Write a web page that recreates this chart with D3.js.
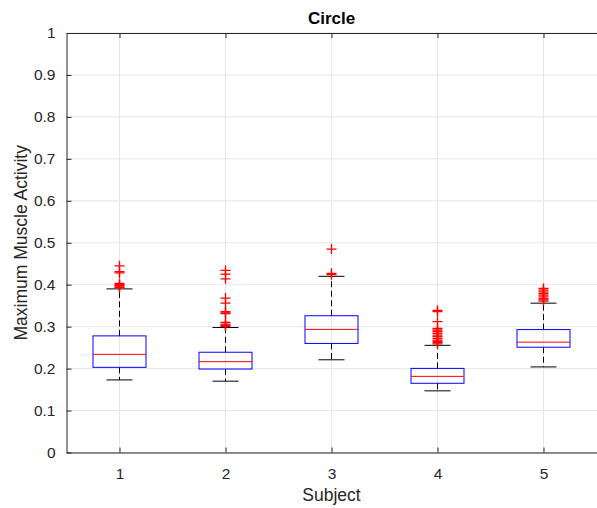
<!DOCTYPE html>
<html><head><meta charset="utf-8">
<script src="https://cdn.jsdelivr.net/npm/d3@7"></script>
<style>body{margin:0;background:#fff}svg{display:block}text{font-family:"Liberation Sans",Arial,sans-serif}</style>
</head><body>
<script>
const subjects = [1, 2, 3, 4, 5];
const q1 = [0.203, 0.199, 0.260, 0.165, 0.251];
const medians = [0.234, 0.2165, 0.2935, 0.1815, 0.263];
const q3 = [0.278, 0.239, 0.326, 0.2005, 0.293];
const whiskerLow = [0.173, 0.170, 0.221, 0.147, 0.204];
const whiskerHigh = [0.390, 0.298, 0.420, 0.2555, 0.356];
const outliers = [
  [0.445, 0.431, 0.428, 0.403, 0.400, 0.398, 0.395, 0.393],
  [0.434, 0.425, 0.414, 0.368, 0.356, 0.336, 0.333, 0.331, 0.310, 0.306, 0.303, 0.301],
  [0.485, 0.427, 0.424],
  [0.339, 0.336, 0.312, 0.296, 0.292, 0.288, 0.284, 0.280, 0.276, 0.272, 0.268, 0.265, 0.262, 0.259],
  [0.391, 0.387, 0.383, 0.379, 0.375, 0.371, 0.367, 0.364, 0.361]
];
const yTicks = [0, 0.1, 0.2, 0.3, 0.4, 0.5, 0.6, 0.7, 0.8, 0.9, 1];

const W = 597, H = 508;
const m = {left: 66.5, right: 0, top: 33, bottom: 55.5};
const svg = d3.select("body").append("svg").attr("width", W).attr("height", H);
const x = d3.scaleLinear().domain([0.5, 5.5]).range([m.left, m.left + 530]);
const y = d3.scaleLinear().domain([0, 1]).range([H - m.bottom, m.top]);
const ink = "#262626";

// grid
const g = svg.append("g");
g.selectAll(".gy").data(yTicks).join("line")
  .attr("x1", m.left).attr("x2", W).attr("y1", d => y(d)).attr("y2", d => y(d))
  .attr("stroke", "#e6e6e6").attr("stroke-width", 1);
g.selectAll(".gx").data(subjects).join("line")
  .attr("x1", d => x(d)).attr("x2", d => x(d)).attr("y1", y(0)).attr("y2", y(1))
  .attr("stroke", "#e6e6e6").attr("stroke-width", 1);

// axes
const yAxis = d3.axisLeft(y).tickValues(yTicks).tickFormat(d => d3.format("~g")(d)).tickSizeInner(-5).tickSizeOuter(0).tickPadding(11);
const xAxis = d3.axisBottom(x).tickValues(subjects).tickFormat(d3.format("d")).tickSizeInner(-5).tickSizeOuter(0).tickPadding(15);
const ya = svg.append("g").attr("transform", `translate(${m.left},0)`).call(yAxis);
const xa = svg.append("g").attr("transform", `translate(0,${y(0)})`).call(xAxis);
const xt = svg.append("g").attr("transform", `translate(0,${y(1)})`).call(d3.axisTop(x).tickValues(subjects).tickFormat("").tickSizeInner(-5).tickSizeOuter(0));
[ya, xa, xt].forEach(a => {
  a.selectAll("path,line").attr("stroke", ink);
  a.selectAll("text").attr("fill", ink).style("font-size", "15.5px");
});

// boxes
const bw = 53, cw = 26;
const boxes = svg.append("g").selectAll("g").data(subjects).join("g");
boxes.append("line").attr("x1", d => x(d)).attr("x2", d => x(d))
  .attr("y1", (d, i) => y(q3[i])).attr("y2", (d, i) => y(whiskerHigh[i]))
  .attr("stroke", "#000").attr("stroke-dasharray", "6,3.5");
boxes.append("line").attr("x1", d => x(d)).attr("x2", d => x(d))
  .attr("y1", (d, i) => y(q1[i])).attr("y2", (d, i) => y(whiskerLow[i]))
  .attr("stroke", "#000").attr("stroke-dasharray", "6,3.5");
boxes.append("line").attr("x1", d => x(d) - cw / 2).attr("x2", d => x(d) + cw / 2)
  .attr("y1", (d, i) => y(whiskerHigh[i])).attr("y2", (d, i) => y(whiskerHigh[i])).attr("stroke", "#000");
boxes.append("line").attr("x1", d => x(d) - cw / 2).attr("x2", d => x(d) + cw / 2)
  .attr("y1", (d, i) => y(whiskerLow[i])).attr("y2", (d, i) => y(whiskerLow[i])).attr("stroke", "#000");
boxes.append("rect").attr("x", d => x(d) - bw / 2).attr("width", bw)
  .attr("y", (d, i) => y(q3[i])).attr("height", (d, i) => y(q1[i]) - y(q3[i]))
  .attr("fill", "none").attr("stroke", "#0000ff");
boxes.append("line").attr("x1", d => x(d) - bw / 2).attr("x2", d => x(d) + bw / 2)
  .attr("y1", (d, i) => y(medians[i])).attr("y2", (d, i) => y(medians[i])).attr("stroke", "#ff0000");

// outliers
const pts = [];
outliers.forEach((arr, i) => arr.forEach(v => pts.push({s: subjects[i], v})));
svg.append("g").selectAll("path").data(pts).join("path")
  .attr("d", d => { const cx = x(d.s), cy = y(d.v), r = 5; return `M${cx - r},${cy}H${cx + r}M${cx},${cy - r}V${cy + r}`; })
  .attr("stroke", "#ff0000").attr("stroke-width", 1.3).attr("fill", "none");

// labels
svg.append("text").attr("x", x(3)).attr("y", 23.5).attr("text-anchor", "middle")
  .style("font-size", "17px").style("font-weight", "bold").attr("fill", "#000").text("Circle");
svg.append("text").attr("x", x(3)).attr("y", 500.5).attr("text-anchor", "middle")
  .style("font-size", "17.5px").attr("fill", ink).text("Subject");
svg.append("text").attr("transform", `translate(27,${y(0.5)}) rotate(-90)`).attr("text-anchor", "middle")
  .style("font-size", "17.5px").attr("fill", ink).text("Maximum Muscle Activity");
</script>
</body></html>
